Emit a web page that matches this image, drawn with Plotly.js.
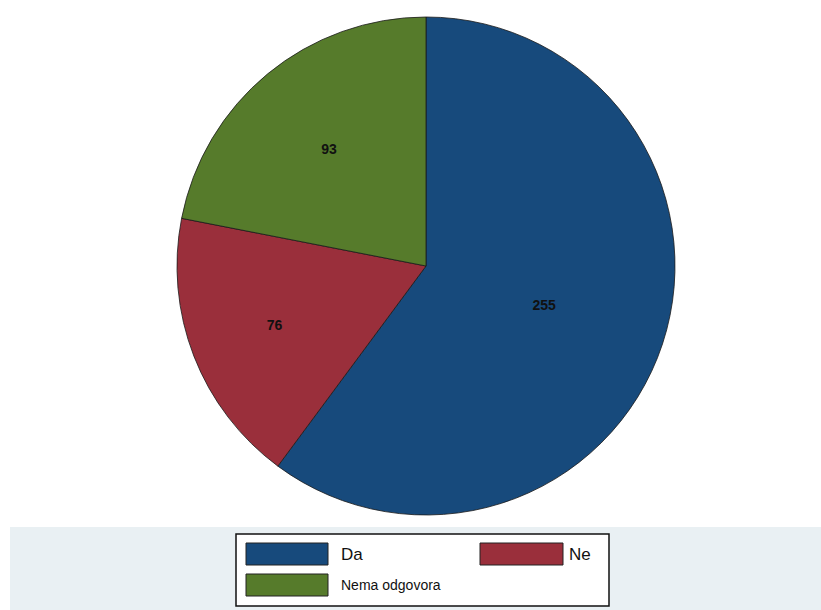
<!DOCTYPE html>
<html>
<head>
<meta charset="utf-8">
<script src="https://cdn.plot.ly/plotly-3.0.1.min.js"></script>
<style>html,body{margin:0;padding:0;background:#fff;}#chart{width:821px;height:610px;}</style>
</head>
<body>
<div id="chart"></div>
<script>
const labels = ["Da", "Ne", "Nema odgovora"];
const values = [255, 76, 93];
const colors = ["#174A7C", "#9A2F3B", "#567B2B"];

const W = 821, H = 610;
const px = v => v / W;
const py = v => 1 - v / H;

const trace = {
  type: "pie",
  labels: labels,
  values: values,
  sort: false,
  direction: "clockwise",
  rotation: 0,
  marker: {colors: colors, line: {color: "#1a1a1a", width: 0.8}},
  textinfo: "value",
  textposition: "inside",
  insidetextorientation: "horizontal",
  textfont: {family: "Liberation Sans, Arial, sans-serif", size: 14, color: "#111", weight: "bold"},
  domain: {x: [px(177), px(675)], y: [py(515), py(17)]},
  showlegend: false,
  hoverinfo: "label+value"
};

const shapes = [
  {type: "rect", xref: "paper", yref: "paper", x0: px(10), x1: 1, y0: 0, y1: py(527),
   fillcolor: "#E9F0F3", line: {width: 0}, layer: "below"},
  {type: "rect", xref: "paper", yref: "paper", x0: px(236), x1: px(609), y0: py(606), y1: py(534),
   fillcolor: "#ffffff", line: {color: "#111", width: 1.5}, layer: "above"}
];
const annotations = [];
const swatchX = [[246, 328], [480, 563], [246, 328]];
const swatchY = [[543, 565], [543, 565], [574, 596]];
const textX = [339, 567, 339];
const textSize = [17, 17, 14];
labels.forEach((lab, i) => {
  shapes.push({type: "rect", xref: "paper", yref: "paper",
    x0: px(swatchX[i][0]), x1: px(swatchX[i][1]), y0: py(swatchY[i][1]), y1: py(swatchY[i][0]),
    fillcolor: colors[i], line: {color: "#222", width: 1}, layer: "above"});
  annotations.push({xref: "paper", yref: "paper", x: px(textX[i]), y: py((swatchY[i][0] + swatchY[i][1]) / 2),
    xanchor: "left", yanchor: "middle", text: lab, showarrow: false,
    font: {family: "Liberation Sans, Arial, sans-serif", size: textSize[i], color: "#111"}});
});

const layout = {
  width: W, height: H,
  margin: {l: 0, r: 0, t: 0, b: 0},
  paper_bgcolor: "#ffffff",
  showlegend: false,
  shapes: shapes,
  annotations: annotations
};

Plotly.newPlot("chart", [trace], layout, {displayModeBar: false, staticPlot: true});
</script>
</body>
</html>
